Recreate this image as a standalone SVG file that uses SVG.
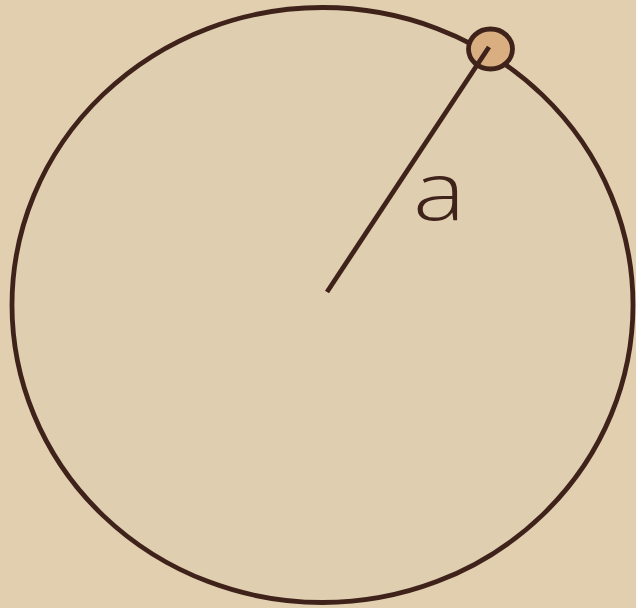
<svg xmlns="http://www.w3.org/2000/svg" width="636" height="608" viewBox="0 0 636 608">
<style>
.ink{stroke:#3f231b;stroke-width:4.8;}
.lbl{font-family:"Open Sans","Liberation Sans",Arial,sans-serif;font-weight:300;font-size:82px;fill:#3f231b;}
</style>
<rect width="636" height="608" fill="#e1cfb0"/>
<g id="disk">
<ellipse cx="322.5" cy="305" rx="310.5" ry="297.5" fill="#dfceb0" class="ink"/>
</g>
<g id="point">
<ellipse cx="490.5" cy="49" rx="22" ry="20" fill="#d9af82" class="ink"/>
</g>
<g id="connectors">
<line x1="327" y1="292" x2="489" y2="47" class="ink"/>
</g>
<g id="label">
<text transform="translate(413,220) scale(1.2,1)" class="lbl">a</text>
</g>
</svg>
